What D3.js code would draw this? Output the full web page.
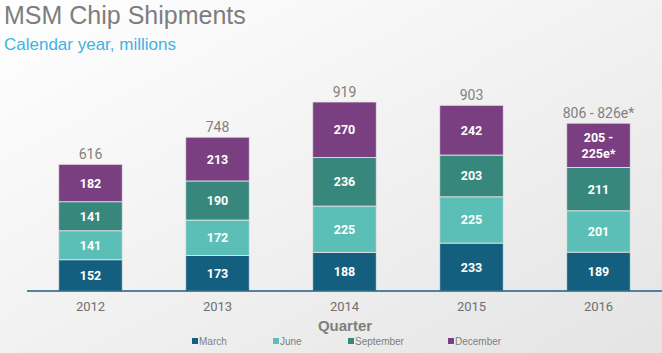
<!DOCTYPE html>
<html><head><meta charset="utf-8">
<script src="https://cdn.jsdelivr.net/npm/d3@7"></script>
<style>html,body{margin:0;padding:0;overflow:hidden;}</style>
</head><body>
<script>
const years = ["2012","2013","2014","2015","2016"];
const quarters = ["March","June","September","December"];
const march = [152,173,188,233,189];
const june = [141,172,225,225,201];
const september = [141,190,236,203,211];
const december = [182,213,270,242,215];
const decemberLabels = ["182","213","270","242","205 -\n225e*"];
const totalLabels = ["616","748","919","903","806 - 826e*"];
const colors = ["#145f80","#5cbfb7","#37877d","#7a3f80"];

const W = 662, H = 353;
const svg = d3.select("body").append("svg").attr("width", W).attr("height", H);
const defs = svg.append("defs");
const grad = defs.append("linearGradient").attr("id","bg").attr("x1","0").attr("y1","0").attr("x2","1").attr("y2","1");
grad.append("stop").attr("offset","0").attr("stop-color","#ffffff");
grad.append("stop").attr("offset","1").attr("stop-color","#e4e4e4");
svg.append("rect").attr("width",W).attr("height",H).attr("fill","url(#bg)");

svg.append("text").attr("x",4).attr("y",23.5).attr("font-family","Liberation Sans, Arial, sans-serif")
  .attr("font-size",25).attr("fill","#7d7d7d").text("MSM Chip Shipments");
svg.append("text").attr("x",4).attr("y",49.5).attr("font-family","Liberation Sans, Arial, sans-serif")
  .attr("font-size",17).attr("fill","#3cb3e4").text("Calendar year, millions");

const x = d3.scaleBand().domain(years).range([27, 662]).paddingInner(0.5).paddingOuter(0.25);
const y = d3.scaleLinear().domain([0, 919]).range([291, 102]);

const series = [march, june, september, december];
const rows = years.map((yr,i)=>{ const o={year:yr}; quarters.forEach((q,j)=>o[q]=series[j][i]); return o; });
const stacked = d3.stack().keys(quarters)(rows);

const g = svg.append("g");
stacked.forEach((s, si) => {
  g.selectAll(null).data(s).enter().append("rect")
    .attr("x", d => x(d.data.year))
    .attr("width", x.bandwidth())
    .attr("y", d => y(d[1]))
    .attr("height", d => y(d[0]) - y(d[1]))
    .attr("fill", colors[si])
    .attr("stroke", "#e6e6e6").attr("stroke-width", 0.8);
});

// segment labels
stacked.forEach((s, si) => {
  s.forEach((d, i) => {
    const cx = x(d.data.year) + x.bandwidth()/2;
    const cy = (y(d[0]) + y(d[1]))/2;
    let txt = si === 3 ? decemberLabels[i] : String(series[si][i]);
    const lines = txt.split("\n");
    const t = g.append("text").attr("text-anchor","middle").attr("font-family","Roboto, sans-serif")
      .attr("font-weight","bold").attr("font-size",12.5).attr("fill","#ffffff");
    lines.forEach((ln, k) => {
      t.append("tspan").attr("x", cx).attr("y", cy + 4.5 + (k - (lines.length-1)/2) * 16).text(ln);
    });
  });
});

// totals
const topLayer = stacked[3];
topLayer.forEach((d,i) => {
  g.append("text").attr("x", x(d.data.year) + x.bandwidth()/2).attr("y", y(d[1]) - 5.5)
    .attr("text-anchor","middle").attr("font-family","Roboto, sans-serif").attr("font-size",14)
    .attr("fill","#808080").text(totalLabels[i]);
});

// axis
const xAxis = d3.axisBottom(x).tickSize(0).tickPadding(0);
const ax = svg.append("g").attr("transform","translate(0,291)").call(xAxis);
ax.select(".domain").attr("stroke","#1c5f7e").attr("stroke-width",1.5).attr("d","M27,0H662");
ax.selectAll("text").attr("font-family","Roboto, sans-serif").attr("font-size",13).attr("fill","#707070")
  .attr("dy",0).attr("y",19.5);

svg.append("text").attr("x",345).attr("y",331).attr("text-anchor","middle")
  .attr("font-family","Liberation Sans, Arial, sans-serif").attr("font-weight","bold")
  .attr("font-size",15).attr("fill","#7f7f7f").text("Quarter");

// legend
const legX = [192, 273, 348, 448];
const leg = svg.append("g");
quarters.forEach((q,i) => {
  leg.append("rect").attr("x",legX[i]).attr("y",338).attr("width",6).attr("height",6).attr("fill",colors[i]);
  leg.append("text").attr("x",legX[i]+7).attr("y",344.5).attr("font-family","Liberation Sans Narrow, Liberation Sans, Arial, sans-serif")
    .attr("font-size",10).attr("fill","#808080").text(q);
});
</script>
</body></html>
